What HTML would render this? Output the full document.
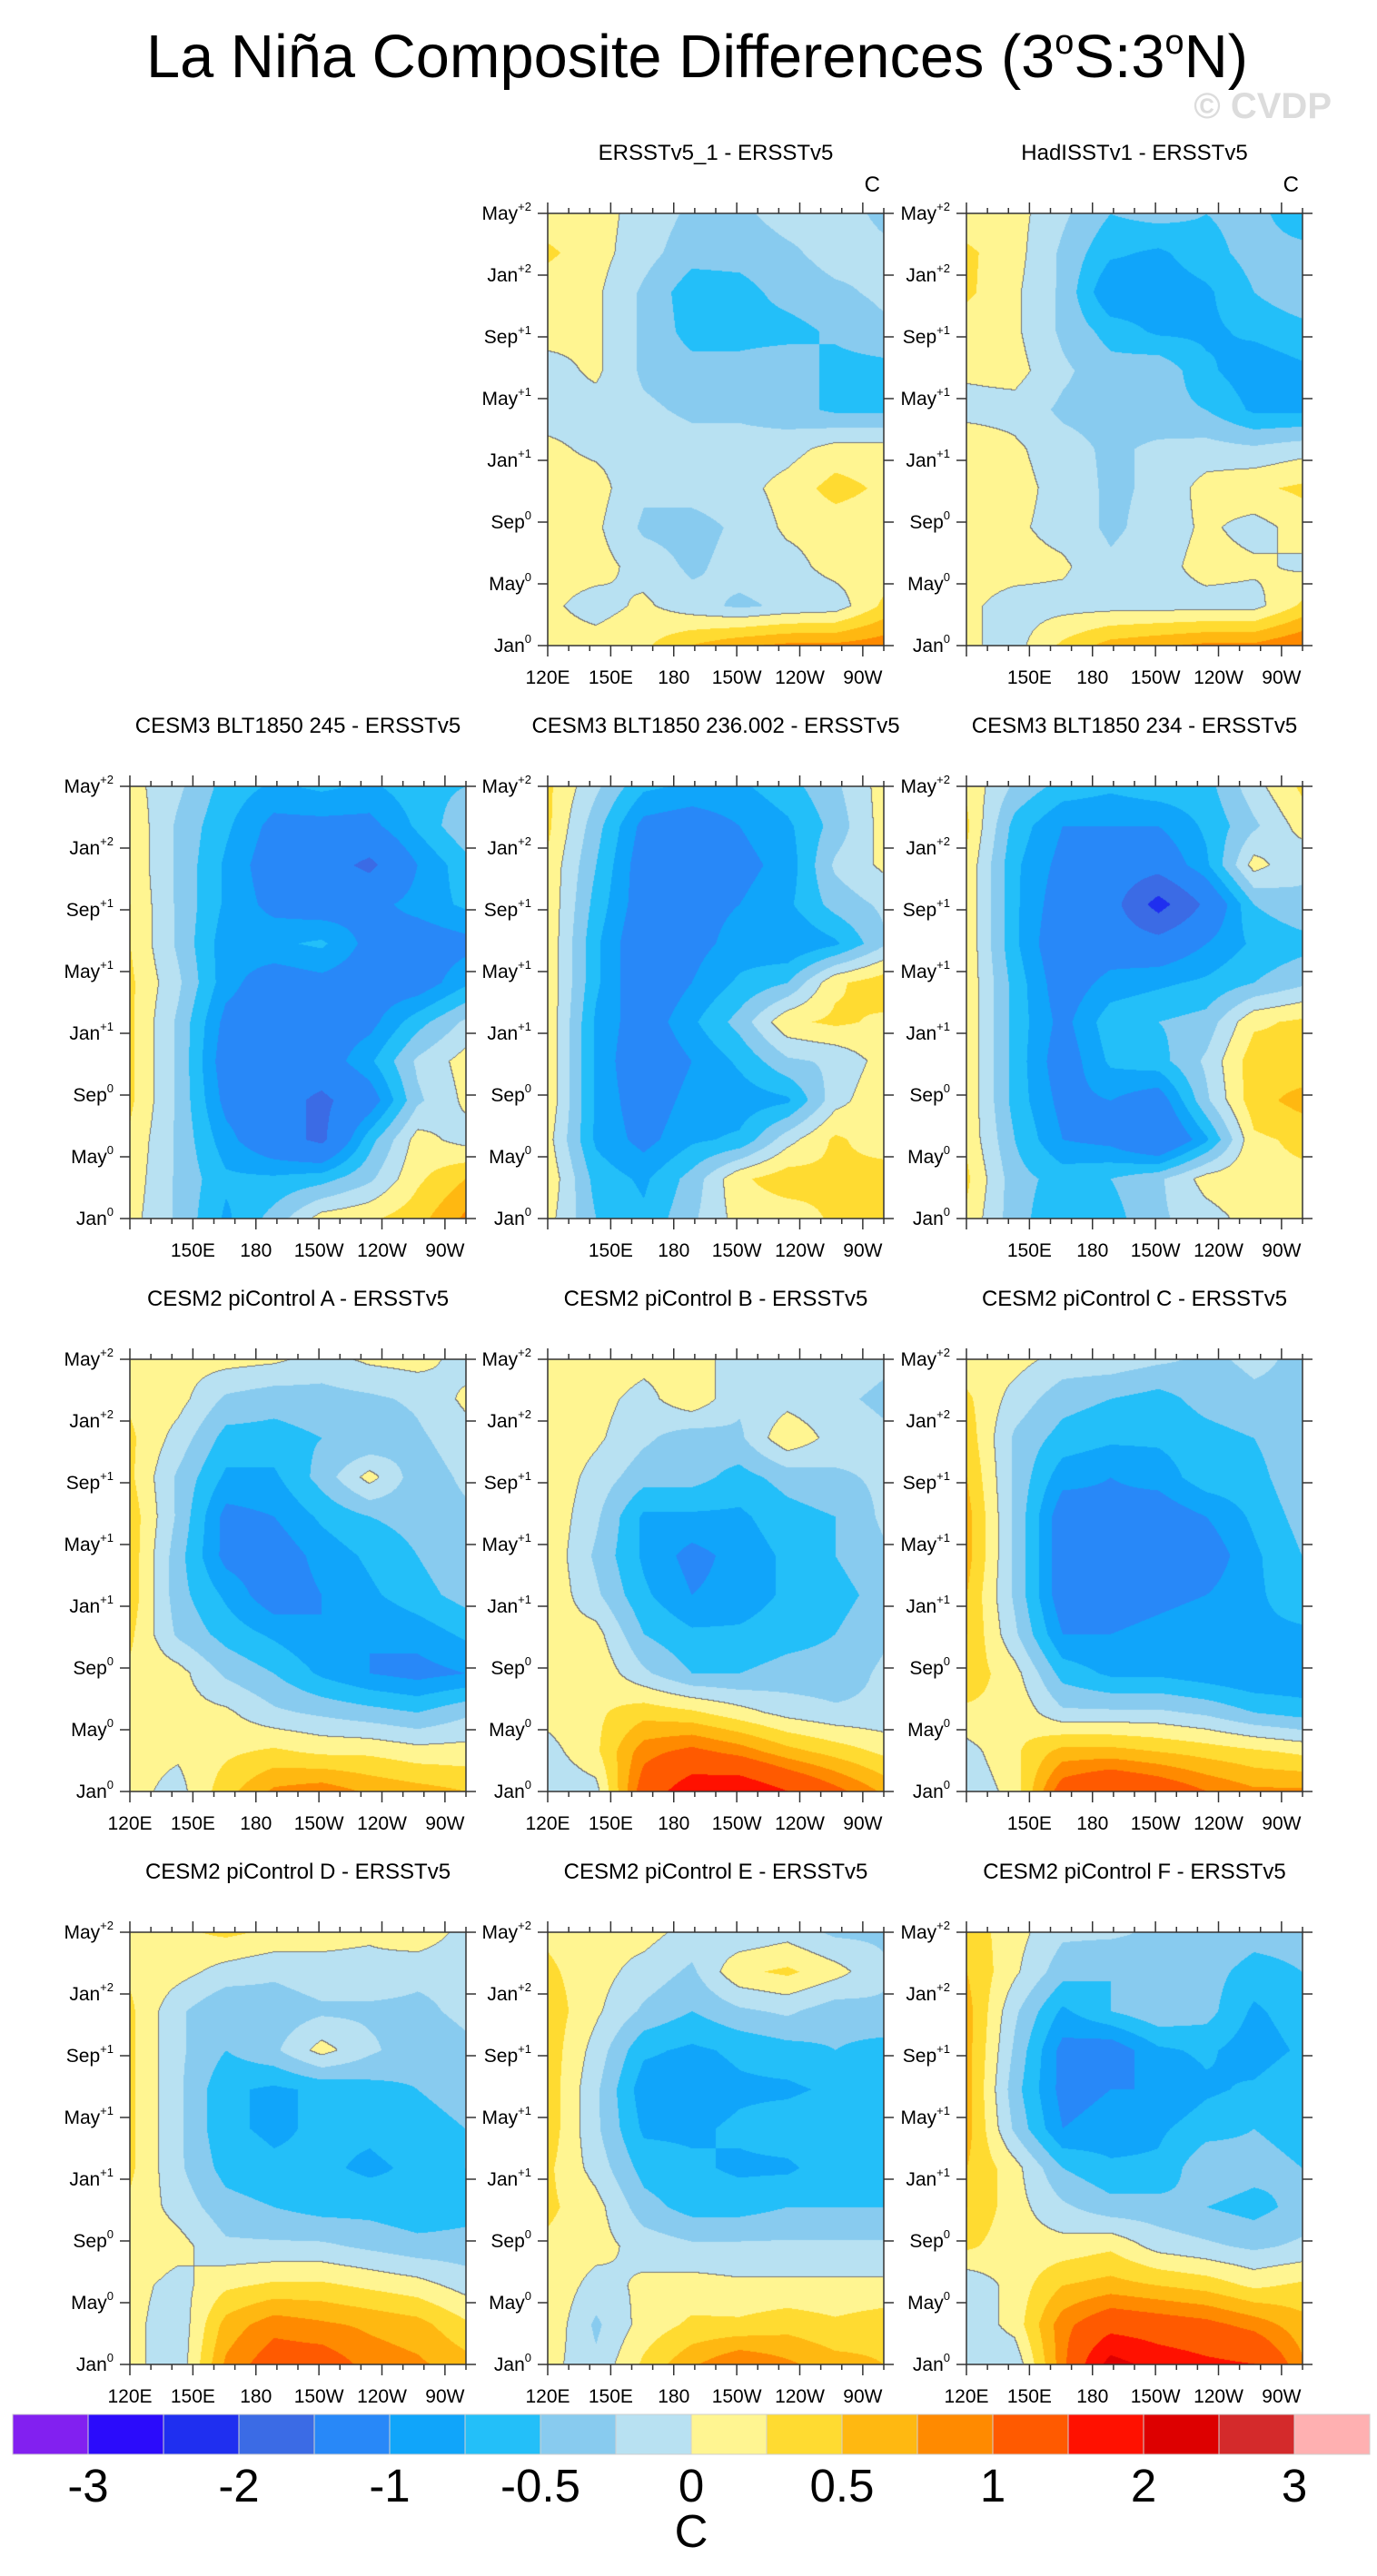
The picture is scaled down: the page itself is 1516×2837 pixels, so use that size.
<!DOCTYPE html>
<html><head><meta charset="utf-8">
<style>
html,body{margin:0;padding:0;background:#fff;}
#root{position:relative;width:1516px;height:2837px;overflow:hidden;font-family:"Liberation Sans",sans-serif;}
canvas{position:absolute;}
svg{position:absolute;left:0;top:0;}
</style></head>
<body>
<div id="root">
<svg id="ov" width="1516" height="2837">
<text x="161" y="85" font-size="67" textLength="1213" lengthAdjust="spacingAndGlyphs" fill="#000">La Niña Composite Differences (3<tspan font-size="38" dy="-26">o</tspan><tspan dy="26">S:3</tspan><tspan font-size="38" dy="-26">o</tspan><tspan dy="26">N)</tspan></text>
<text x="1466" y="130" font-size="40" font-weight="bold" fill="#dcdcdc" text-anchor="end">© CVDP</text>
</svg>
</div>
<script>
// colour levels and palette
const levels=[-3,-2.5,-2,-1.5,-1,-0.75,-0.5,-0.25,0,0.25,0.5,0.75,1,1.5,2,2.5,3];
const palette=["#8220F0","#2B0BFB","#1F2FF0","#3B6BE5","#2888F8","#10A5FA","#23BFF9","#88CBEF","#B8E1F2","#FFF591","#FFDB31","#FFB811","#FF8A00","#FF5A00","#FF1100","#DD0000","#D42A2B","#FFB0B1"];
const cbLabels=["-3","-2","-1","-0.5","0","0.5","1","2","3"];
const lonGrid=[120,142.9,165.7,188.6,211.4,234.3,257.1,280];
const xTickLabels=["120E","150E","180","150W","120W","90W"];
const xTickLons=[120,150,180,210,240,270];
const yTickLabels=[["Jan","0"],["May","0"],["Sep","0"],["Jan","+1"],["May","+1"],["Sep","+1"],["Jan","+2"],["May","+2"]];
const yTickMonths=[0,4,8,12,16,20,24,28];
// panel field values: rows from May+2 (top) to Jan0 (bottom), columns 120E..80W
const ersst1=[[0.1,0.1,-0.1,-0.3,-0.3,-0.15,-0.15,-0.3],[0.3,0.1,-0.15,-0.4,-0.4,-0.3,-0.15,-0.2],[0.1,0.05,-0.3,-0.65,-0.6,-0.4,-0.3,-0.2],[0.1,0.05,-0.3,-0.6,-0.6,-0.6,-0.45,-0.3],[-0.1,0.05,-0.3,-0.4,-0.4,-0.3,-0.6,-0.6],[-0.1,-0.1,-0.2,-0.3,-0.3,-0.4,-0.55,-0.55],[0.05,-0.05,-0.1,-0.15,-0.15,-0.1,0.1,0.1],[0.1,0.1,-0.2,-0.15,-0.1,0.1,0.35,0.2],[0.1,0.05,-0.3,-0.35,-0.2,0.05,0.1,0.1],[0.1,0.1,-0.1,-0.3,-0.15,-0.1,0.1,0.1],[0.05,-0.1,0.05,-0.15,-0.3,-0.2,-0.15,0.3],[0.1,0.1,0.2,0.5,0.7,0.8,0.8,0.9]];
const hadisst=[[0.1,0.1,-0.2,-0.5,-0.4,-0.5,-0.4,-0.7],[0.3,0.1,-0.3,-0.7,-0.8,-0.6,-0.4,-0.4],[0.3,0.05,-0.3,-1.0,-0.9,-0.8,-0.5,-0.3],[0.1,0.05,-0.3,-0.6,-0.8,-0.8,-0.7,-0.6],[0.05,0.1,-0.2,-0.4,-0.3,-0.7,-0.9,-0.8],[-0.1,-0.1,-0.3,-0.35,-0.4,-0.5,-0.8,-0.8],[0.2,0.05,-0.15,-0.3,-0.2,-0.15,-0.2,-0.1],[0.2,0.1,-0.1,-0.3,-0.2,0.1,0.2,0.3],[0.15,0.05,-0.1,-0.3,-0.15,0.05,-0.1,0.1],[0.1,0.1,0.05,-0.2,-0.1,0.1,0.05,-0.05],[0.05,-0.1,-0.1,-0.1,-0.1,-0.1,-0.1,0.3],[0.05,-0.1,0.3,0.6,0.7,0.8,0.8,1.0]];
const cesm3a=[[0.1,-0.2,-0.6,-0.8,-0.7,-0.8,-0.6,-0.5],[0.2,-0.3,-0.7,-1.1,-1.1,-1.1,-0.7,-0.3],[0.2,-0.3,-0.8,-1.2,-1.3,-1.6,-1.0,-0.6],[0.25,-0.3,-0.8,-1.1,-1.2,-1.1,-0.9,-0.7],[0.25,-0.3,-0.9,-0.8,-0.7,-1.1,-1.2,-1.1],[0.3,-0.2,-0.9,-1.2,-1.1,-1.2,-1.2,-0.8],[0.3,-0.3,-1.1,-1.2,-1.2,-1.1,-0.6,-0.2],[0.3,-0.3,-1.2,-1.3,-1.2,-0.8,-0.2,0.1],[0.3,-0.3,-1.1,-1.3,-1.6,-1.2,-0.3,0.05],[0.2,-0.3,-0.9,-1.3,-1.6,-0.6,0.1,-0.1],[0.15,-0.3,-0.7,-0.7,-0.6,-0.3,0.2,0.5],[0.1,-0.3,-0.8,-0.4,0.1,0.2,0.4,0.8]];
const cesm3b=[[0.3,-0.2,-0.7,-0.8,-0.8,-0.6,-0.3,0.1],[0.3,-0.4,-1.1,-1.2,-1.0,-0.8,-0.4,0.1],[0.2,-0.5,-1.2,-1.2,-1.1,-0.9,-0.2,0.05],[0.2,-0.6,-1.2,-1.1,-1.0,-0.8,-0.4,-0.2],[0.2,-0.7,-1.3,-1.1,-0.9,-1.0,-0.8,-0.3],[0.2,-0.7,-1.3,-1.0,-0.7,-0.5,0.2,0.4],[0.2,-0.8,-1.2,-0.8,-0.4,0.2,0.3,0.2],[0.2,-0.8,-1.3,-1.0,-0.7,-0.3,-0.2,0.1],[0.2,-0.8,-1.2,-0.9,-0.9,-0.8,-0.1,0.2],[0.1,-0.8,-1.1,-0.8,-0.7,-0.1,0.3,0.1],[0.2,-0.6,-0.8,-0.4,0.2,0.4,0.3,0.4],[0.1,-0.5,-0.7,-0.3,0.1,0.1,0.3,0.4]];
const cesm3c=[[0.2,-0.3,-0.6,-0.7,-0.6,-0.6,-0.1,0.3],[0.3,-0.6,-1.0,-1.0,-1.0,-0.7,-0.3,0.1],[0.2,-0.7,-1.1,-1.2,-1.3,-0.8,0.1,-0.2],[0.2,-0.7,-1.2,-1.3,-2.2,-1.4,-0.5,-0.3],[0.2,-0.7,-1.3,-1.2,-1.3,-1.0,-0.7,-0.6],[0.2,-0.6,-1.2,-0.9,-0.8,-0.7,-0.5,-0.3],[0.2,-0.6,-1.1,-0.6,-0.5,-0.4,0.2,0.3],[0.2,-0.6,-1.2,-0.7,-0.6,-0.2,0.4,0.3],[0.2,-0.6,-1.1,-1.0,-1.2,-0.3,0.4,0.6],[0.2,-0.5,-1.0,-1.1,-1.5,-0.8,0.2,0.3],[0.3,-0.4,-0.6,-0.5,-0.3,0.1,0.2,0.2],[0.2,-0.4,-0.7,-0.6,-0.3,-0.1,0.1,0.2]];
const cesm2a=[[0.1,0.1,0.1,0.05,-0.1,0.05,0.1,-0.1],[0.2,0.1,-0.3,-0.4,-0.35,-0.3,-0.2,0.05],[0.3,-0.1,-0.6,-0.6,-0.5,-0.5,-0.3,-0.1],[0.3,-0.3,-0.8,-0.8,-0.4,0.1,-0.4,-0.2],[0.4,-0.3,-1.1,-1.0,-0.7,-0.5,-0.4,-0.3],[0.4,-0.4,-1.1,-1.2,-0.9,-0.7,-0.5,-0.3],[0.4,-0.4,-0.8,-1.2,-1.0,-0.8,-0.6,-0.4],[0.3,-0.3,-0.6,-0.8,-1.0,-1.0,-0.9,-0.7],[0.2,0.1,-0.3,-0.5,-0.8,-1.0,-1.1,-1.0],[0.1,0.1,0.05,-0.2,-0.3,-0.4,-0.5,-0.3],[0.1,0.05,0.2,0.3,0.2,0.2,0.1,0.1],[0.1,-0.1,0.4,0.8,0.9,0.7,0.6,0.5]];
const cesm2b=[[0.1,0.2,0.1,0.1,-0.1,-0.2,-0.1,-0.2],[0.2,0.1,-0.1,0.2,-0.2,-0.1,-0.2,-0.3],[0.2,0.05,-0.2,-0.4,-0.3,0.2,-0.1,-0.2],[0.2,-0.1,-0.4,-0.4,-0.6,-0.4,-0.3,-0.2],[0.2,-0.2,-0.8,-0.8,-0.8,-0.6,-0.5,-0.2],[0.2,-0.3,-0.8,-1.1,-0.9,-0.7,-0.5,-0.3],[0.2,-0.2,-0.7,-1.0,-0.9,-0.7,-0.6,-0.4],[0.1,0.1,-0.5,-0.7,-0.7,-0.6,-0.5,-0.3],[0.1,0.2,-0.2,-0.5,-0.5,-0.4,-0.4,-0.2],[0.1,0.2,0.4,0.3,0.1,-0.1,-0.2,-0.2],[-0.1,0.2,0.9,1.1,0.9,0.6,0.4,0.2],[-0.2,-0.1,1.2,1.8,1.9,1.5,1.1,0.7]];
const cesm2c=[[0.1,0.1,-0.1,-0.1,-0.2,-0.3,-0.2,-0.3],[0.3,-0.1,-0.4,-0.5,-0.6,-0.4,-0.3,-0.3],[0.4,-0.3,-0.6,-0.7,-0.7,-0.6,-0.5,-0.3],[0.5,-0.3,-0.9,-1.0,-0.9,-0.6,-0.6,-0.3],[0.6,-0.3,-1.2,-1.1,-1.2,-1.0,-0.7,-0.4],[0.6,-0.3,-1.2,-1.2,-1.3,-1.2,-0.8,-0.5],[0.5,-0.3,-1.2,-1.2,-1.1,-1.0,-0.8,-0.6],[0.5,-0.2,-1.0,-1.0,-0.9,-0.8,-0.8,-0.8],[0.4,0.1,-0.6,-0.8,-0.8,-0.9,-1.0,-1.0],[0.2,0.2,-0.2,-0.2,-0.2,-0.3,-0.5,-0.6],[-0.1,0.2,0.6,0.6,0.5,0.4,0.3,0.2],[-0.2,0.1,1.2,1.5,1.3,1.0,0.8,0.8]];
const cesm2d=[[0.1,0.2,0.3,0.2,0.1,0.05,0.2,-0.1],[0.2,0.1,-0.1,-0.2,-0.1,-0.1,-0.2,-0.2],[0.3,-0.2,-0.5,-0.4,-0.3,-0.3,-0.3,-0.2],[0.3,-0.2,-0.5,-0.3,0.1,-0.2,-0.4,-0.3],[0.3,-0.2,-0.7,-0.8,-0.7,-0.6,-0.5,-0.4],[0.3,-0.2,-0.7,-0.8,-0.7,-0.7,-0.6,-0.5],[0.3,-0.2,-0.6,-0.7,-0.7,-0.8,-0.7,-0.5],[0.2,-0.1,-0.4,-0.5,-0.6,-0.6,-0.7,-0.6],[0.2,0.1,-0.2,-0.2,-0.2,-0.3,-0.4,-0.4],[0.1,-0.1,0.2,0.3,0.3,0.2,0.1,-0.1],[0.1,-0.2,0.6,0.9,0.8,0.7,0.6,0.3],[0.1,-0.2,0.8,1.2,1.2,0.9,0.8,0.6]];
const cesm2e=[[0.2,0.1,0.1,-0.1,-0.2,-0.1,-0.3,-0.3],[0.3,0.1,-0.1,-0.3,0.2,0.3,0.1,-0.2],[0.4,0.05,-0.3,-0.5,-0.3,-0.2,-0.4,-0.3],[0.4,-0.1,-0.7,-0.8,-0.7,-0.6,-0.5,-0.6],[0.4,-0.2,-0.9,-0.9,-0.8,-0.8,-0.7,-0.7],[0.4,-0.2,-0.8,-0.8,-0.7,-0.6,-0.5,-0.5],[0.3,-0.1,-0.6,-0.7,-0.8,-0.8,-0.6,-0.6],[0.3,0.1,-0.4,-0.6,-0.6,-0.5,-0.5,-0.5],[0.2,0.1,-0.1,-0.2,-0.2,-0.2,-0.2,-0.2],[0.2,-0.1,0.05,0.1,0.05,0.05,0.05,0.05],[0.2,-0.3,0.1,0.3,0.3,0.4,0.3,0.4],[0.1,-0.2,0.3,0.7,1.0,0.8,0.6,0.5]];
const cesm2f=[[0.4,0.1,-0.2,-0.2,-0.3,-0.3,-0.4,-0.4],[0.5,0.05,-0.4,-0.5,-0.4,-0.4,-0.6,-0.5],[0.6,-0.2,-0.8,-0.5,-0.3,-0.4,-0.8,-0.6],[0.6,-0.3,-1.1,-1.2,-0.8,-0.7,-0.9,-0.7],[0.6,-0.4,-1.1,-1.0,-1.0,-0.8,-0.7,-0.5],[0.6,-0.3,-1.0,-0.9,-0.8,-0.6,-0.5,-0.6],[0.5,0.1,-0.5,-0.7,-0.7,-0.3,-0.4,-0.5],[0.5,0.1,-0.2,-0.4,-0.4,-0.5,-0.6,-0.4],[0.3,0.1,0.1,0.2,-0.1,-0.2,-0.3,-0.2],[-0.2,0.1,0.5,0.6,0.5,0.4,0.2,0.3],[-0.2,0.1,0.9,1.3,1.2,1.1,0.9,0.6],[-0.2,-0.2,0.9,2.2,1.8,1.6,1.5,0.8]];

const panels=[
 {t:"ERSSTv5_1 - ERSSTv5",d:ersst1,r:0,c:1,lab120:true,C:true,n:"ersstv5-1"},
 {t:"HadISSTv1 - ERSSTv5",d:hadisst,r:0,c:2,lab120:false,C:true,n:"hadisstv1"},
 {t:"CESM3 BLT1850 245 - ERSSTv5",d:cesm3a,r:1,c:0,lab120:false,n:"cesm3-245"},
 {t:"CESM3 BLT1850 236.002 - ERSSTv5",d:cesm3b,r:1,c:1,lab120:false,n:"cesm3-236"},
 {t:"CESM3 BLT1850 234 - ERSSTv5",d:cesm3c,r:1,c:2,lab120:false,n:"cesm3-234"},
 {t:"CESM2 piControl A - ERSSTv5",d:cesm2a,r:2,c:0,lab120:true,n:"cesm2-a"},
 {t:"CESM2 piControl B - ERSSTv5",d:cesm2b,r:2,c:1,lab120:true,n:"cesm2-b"},
 {t:"CESM2 piControl C - ERSSTv5",d:cesm2c,r:2,c:2,lab120:false,n:"cesm2-c"},
 {t:"CESM2 piControl D - ERSSTv5",d:cesm2d,r:3,c:0,lab120:true,n:"cesm2-d"},
 {t:"CESM2 piControl E - ERSSTv5",d:cesm2e,r:3,c:1,lab120:true,n:"cesm2-e"},
 {t:"CESM2 piControl F - ERSSTv5",d:cesm2f,r:3,c:2,lab120:true,n:"cesm2-f"}
];
const colL=[143,603,1064], PW=370, PH=476, row0=235, rowStep=631;
const NS="http://www.w3.org/2000/svg";
const ov=document.getElementById('ov'), root=document.getElementById('root');
function hex(h){return [parseInt(h.substr(1,2),16),parseInt(h.substr(3,2),16),parseInt(h.substr(5,2),16)];}
const pal=palette.map(hex);
function levelIdx(v){let i=0;while(i<levels.length&&v>=levels[i])i++;return i;}
function mk(tag,attrs,parent){const e=document.createElementNS(NS,tag);for(const k in attrs)e.setAttribute(k,attrs[k]);(parent||ov).appendChild(e);return e;}

panels.forEach(p=>{
 const x0=colL[p.c], y0=row0+p.r*rowStep;
 const xs=lon=>x0+(lon-120)/160*PW;
 const ys=m=>y0+PH-(m/28)*PH;
 // field
 const cv=document.createElement('canvas');
 cv.width=PW;cv.height=PH;cv.style.left=x0+'px';cv.style.top=y0+'px';
 
 
 root.insertBefore(cv,ov);
 const ctx=cv.getContext('2d'), img=ctx.createImageData(PW,PH), d=p.d;
 const nr=d.length, nc=d[0].length, vals=new Float32Array(PW*PH);
 for(let j=0;j<PH;j++){
  const fy=j/(PH-1)*(nr-1), r0=Math.min(Math.floor(fy),nr-2), ty=fy-r0;
  for(let i=0;i<PW;i++){
   const lon=120+i/(PW-1)*160;
   let c0=0;while(c0<nc-2&&lon>lonGrid[c0+1])c0++;
   const tx=(lon-lonGrid[c0])/(lonGrid[c0+1]-lonGrid[c0]);
   const v=(d[r0][c0]*(1-tx)+d[r0][c0+1]*tx)*(1-ty)+(d[r0+1][c0]*(1-tx)+d[r0+1][c0+1]*tx)*ty;
   vals[j*PW+i]=v;
  }
 }
 for(let j=0;j<PH;j++)for(let i=0;i<PW;i++){
  const v=vals[j*PW+i];let col=pal[levelIdx(v)];
  if(i<PW-1&&j<PH-1){const a=v>=0,b=vals[j*PW+i+1]>=0,c=vals[(j+1)*PW+i]>=0;if(a!==b||a!==c)col=[120,120,120];}
  const k=(j*PW+i)*4;img.data[k]=col[0];img.data[k+1]=col[1];img.data[k+2]=col[2];img.data[k+3]=255;
 }
 ctx.putImageData(img,0,0);
 // titles
 const t=mk('text',{x:x0+PW/2,y:y0-59,'font-size':24,'text-anchor':'middle',fill:'#000'});
 t.textContent=p.t;
 
 
 if(p.C){const c=mk('text',{x:x0+PW-4,y:y0-24,'font-size':24,'text-anchor':'end',fill:'#000'});c.textContent='C';
  
  }
 const g=mk('g',{stroke:'#333','stroke-width':1.5,fill:'none'});
 
 
 mk('rect',{x:x0,y:y0,width:PW,height:PH},g);
 for(let lon=120;lon<=280;lon+=10){
  const major=(lon-120)%30===0&&lon<=270, L=major?12:6, x=xs(lon);
  mk('line',{x1:x,y1:y0+PH,x2:x,y2:y0+PH+L},g);
  mk('line',{x1:x,y1:y0,x2:x,y2:y0-L},g);
 }
 yTickMonths.forEach((m,k)=>{
  const y=ys(m);
  mk('line',{x1:x0-11,y1:y,x2:x0,y2:y},g);
  mk('line',{x1:x0+PW,y1:y,x2:x0+PW+11,y2:y},g);
  const tx=mk('text',{x:x0-18,y:y+7,'font-size':21,'text-anchor':'end',fill:'#000',stroke:'none'});
  
  
  const s1=document.createElementNS(NS,'tspan');s1.textContent=yTickLabels[k][0];tx.appendChild(s1);
  const s2=document.createElementNS(NS,'tspan');s2.setAttribute('font-size','13');s2.setAttribute('dy','-10');s2.textContent=yTickLabels[k][1];tx.appendChild(s2);
 });
 xTickLons.forEach((lon,k)=>{
  if(k===0&&!p.lab120)return;
  const tx=mk('text',{x:xs(lon),y:y0+PH+42,'font-size':21,'text-anchor':'middle',fill:'#000'});
  tx.textContent=xTickLabels[k];
  
  
 });
});
// colorbar
const cbX=14, cbW=83, cbY=2659, cbH=44;
palette.forEach((c,i)=>{
 const r=mk('rect',{x:cbX+i*cbW,y:cbY,width:cbW,height:cbH,fill:c,stroke:'#d0d0d0','stroke-width':1});
 
 
});
cbLabels.forEach((l,k)=>{
 const t=mk('text',{x:cbX+(2*k+1)*cbW,y:2755,'font-size':51,'text-anchor':'middle',fill:'#000'});
 t.textContent=l;
 
 
});
const cu=mk('text',{x:cbX+9*cbW,y:2805,'font-size':51,'text-anchor':'middle',fill:'#000'});
cu.textContent='C';


</script>
</body></html>
